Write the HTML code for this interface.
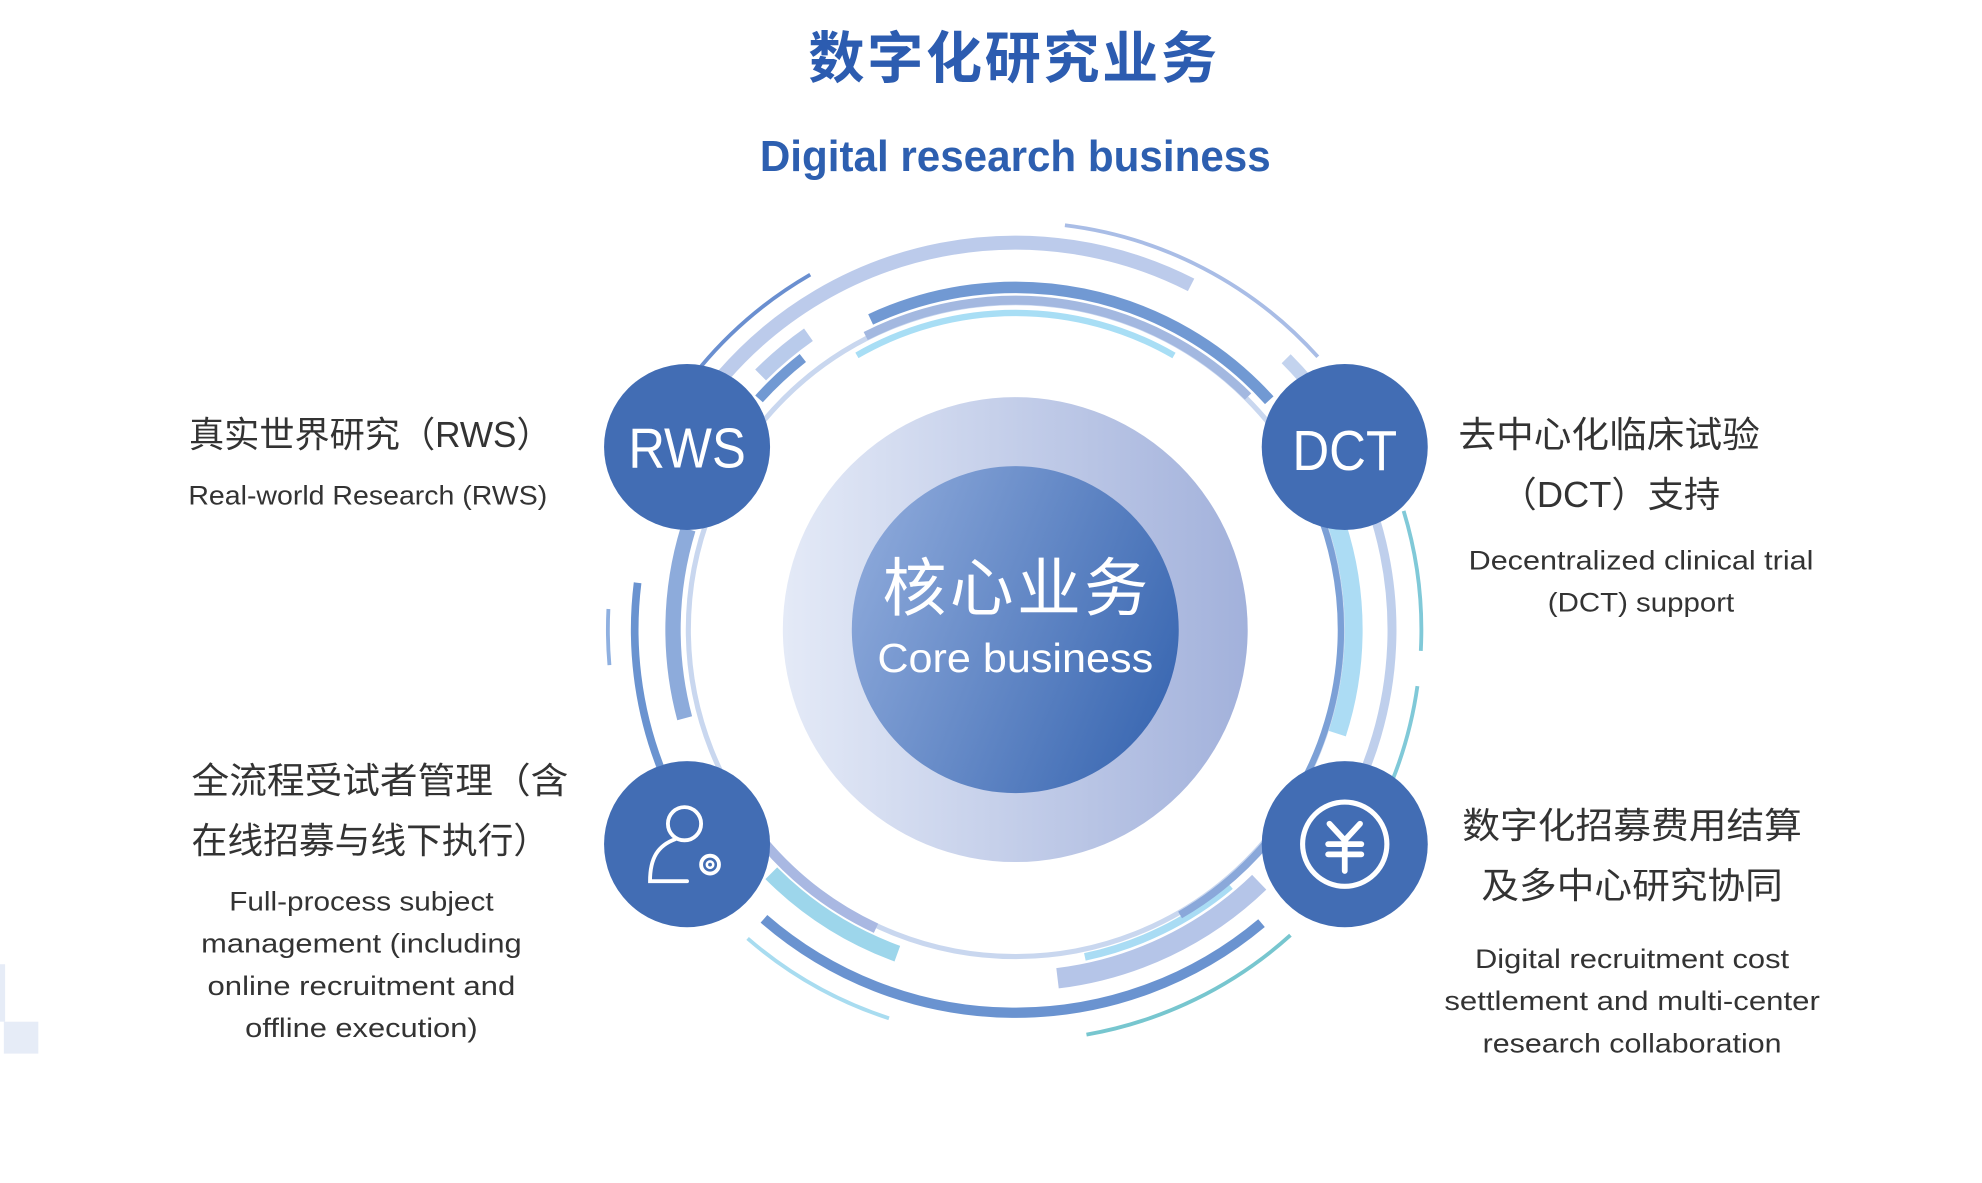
<!DOCTYPE html>
<html><head><meta charset="utf-8"><style>
html,body{margin:0;padding:0;background:#fff;width:1982px;height:1183px;overflow:hidden}
svg{display:block}
.cn{font-family:"Liberation Sans","Noto Sans CJK SC",sans-serif}
.en{font-family:"Liberation Sans","Noto Sans CJK SC",sans-serif}
</style></head><body>
<svg width="1982" height="1183" viewBox="0 0 1552 926.3" preserveAspectRatio="none" xmlns="http://www.w3.org/2000/svg">
<defs>
<linearGradient id="g1" x1="0" y1="0" x2="1" y2="0"><stop offset="0" stop-color="#e4eaf7"/><stop offset="1" stop-color="#a2b1db"/></linearGradient>
<linearGradient id="g2" x1="0" y1="0.2" x2="1" y2="0.6"><stop offset="0" stop-color="#8eaadb"/><stop offset="1" stop-color="#3d6ab3"/></linearGradient>
</defs>
<rect x="0" y="755" width="4" height="45" fill="#e6ecf7"/>
<rect x="3" y="800" width="27" height="25" fill="#e6ecf7"/>
<g fill="none">
<circle cx="795" cy="493" r="256" stroke="#c9d7ef" stroke-width="4"/>
<circle cx="795" cy="493" r="319" stroke="#a9bde6" stroke-width="3" stroke-dasharray="228 9999" transform="rotate(-83 795 493)"/>
<circle cx="795" cy="493" r="321" stroke="#6a8fd0" stroke-width="3" stroke-dasharray="112 9999" transform="rotate(-140 795 493)"/>
<circle cx="795" cy="493" r="303" stroke="#bccbeb" stroke-width="11" stroke-dasharray="402 9999" transform="rotate(-139 795 493)"/>
<circle cx="795" cy="493" r="300" stroke="#c3d3ee" stroke-width="10" stroke-dasharray="26 9999" transform="rotate(-45 795 493)"/>
<circle cx="795" cy="493" r="282" stroke="#b9cbeb" stroke-width="12" stroke-dasharray="49 9999" transform="rotate(-135 795 493)"/>
<circle cx="795" cy="493" r="270" stroke="#7199d3" stroke-width="8" stroke-dasharray="47 9999" transform="rotate(-138 795 493)"/>
<circle cx="795" cy="493" r="268" stroke="#7199d3" stroke-width="9" stroke-dasharray="341 9999" transform="rotate(-115 795 493)"/>
<circle cx="795" cy="493" r="258" stroke="#a3b8e0" stroke-width="7" stroke-dasharray="324 9999" transform="rotate(-117 795 493)"/>
<circle cx="795" cy="493" r="248" stroke="#a8def5" stroke-width="5" stroke-dasharray="260 9999" transform="rotate(-120 795 493)"/>
<circle cx="795" cy="493" r="265" stroke="#acdcf4" stroke-width="14" stroke-dasharray="166 9999" transform="rotate(-18 795 493)"/>
<circle cx="795" cy="493" r="255" stroke="#7ca0d6" stroke-width="5" stroke-dasharray="245 9999" transform="rotate(-25 795 493)"/>
<circle cx="795" cy="493" r="295" stroke="#bfcfec" stroke-width="7" stroke-dasharray="283 9999" transform="rotate(-25 795 493)"/>
<circle cx="795" cy="493" r="318" stroke="#80c9d8" stroke-width="3" stroke-dasharray="111 9999" transform="rotate(-17 795 493)"/>
<circle cx="795" cy="493" r="318" stroke="#80c9d8" stroke-width="3" stroke-dasharray="94 9999" transform="rotate(8 795 493)"/>
<circle cx="795" cy="493" r="268" stroke="#8dabdb" stroke-width="12" stroke-dasharray="150 9999" transform="rotate(165 795 493)"/>
<circle cx="795" cy="493" r="298" stroke="#6a93d0" stroke-width="6" stroke-dasharray="146 9999" transform="rotate(159 795 493)"/>
<circle cx="795" cy="493" r="319" stroke="#8fb0e0" stroke-width="3" stroke-dasharray="44 9999" transform="rotate(175 795 493)"/>
<circle cx="795" cy="493" r="300" stroke="#6a93d0" stroke-width="8" stroke-dasharray="424 9999" transform="rotate(50 795 493)"/>
<circle cx="795" cy="493" r="320" stroke="#a8dcf0" stroke-width="3" stroke-dasharray="128 9999" transform="rotate(108 795 493)"/>
<circle cx="795" cy="493" r="322" stroke="#77c6cf" stroke-width="3" stroke-dasharray="180 9999" transform="rotate(48 795 493)"/>
<circle cx="795" cy="493" r="275" stroke="#b5c5e8" stroke-width="16" stroke-dasharray="178 9999" transform="rotate(46 795 493)"/>
<circle cx="795" cy="493" r="262" stroke="#a9dcf4" stroke-width="6" stroke-dasharray="128 9999" transform="rotate(50 795 493)"/>
<circle cx="795" cy="493" r="258" stroke="#8aa8da" stroke-width="6" stroke-dasharray="99 9999" transform="rotate(38 795 493)"/>
<circle cx="795" cy="493" r="270" stroke="#9dd6eb" stroke-width="13" stroke-dasharray="118 9999" transform="rotate(110 795 493)"/>
<circle cx="795" cy="493" r="258" stroke="#a9b8e2" stroke-width="8" stroke-dasharray="113 9999" transform="rotate(115 795 493)"/>
</g>
<circle cx="795" cy="493" r="182" fill="url(#g1)"/>
<circle cx="795" cy="493" r="128" fill="url(#g2)"/>
<g fill="#426db4">
<circle cx="538" cy="350" r="65"/><circle cx="1053" cy="350" r="65"/>
<circle cx="538" cy="661" r="65"/><circle cx="1053" cy="661" r="65"/>
</g>
<g fill="none" stroke="#fff" stroke-width="3" stroke-linecap="round">
<circle cx="536" cy="645" r="13"/>
<path d="M529 657 C515 662 509 672 509 690 L538 690"/>
<circle cx="556" cy="677" r="7"/><circle cx="556" cy="677" r="2.5" stroke-width="2"/>
<circle cx="1053" cy="661" r="33" stroke-width="4"/>
<path d="M1041 645 L1053 658 L1065 645 M1040 661 L1066 661 M1040 669 L1066 669 M1053 658 L1053 682" stroke-width="4.5"/>
</g>
<g class="cn" text-anchor="middle">
<text x="793" y="61" font-size="44" font-weight="bold" fill="#2c5cb0" textLength="320">数字化研究业务</text>
<text x="795" y="134" font-size="34" font-weight="bold" fill="#2d5fb0" textLength="400" lengthAdjust="spacingAndGlyphs">Digital research business</text>
<text x="538" y="366" font-size="44" fill="#fff" textLength="92" lengthAdjust="spacingAndGlyphs">RWS</text>
<text x="1053" y="368" font-size="44" fill="#fff" textLength="82" lengthAdjust="spacingAndGlyphs">DCT</text>
<text x="795" y="478" font-size="50" fill="#fff" textLength="208">核心业务</text>
<text x="795" y="526" font-size="32" fill="#fff" textLength="216" lengthAdjust="spacingAndGlyphs">Core business</text>
</g>
<g class="cn" fill="#333" font-size="28">
<text x="148" y="350" textLength="284" lengthAdjust="spacingAndGlyphs">真实世界研究（RWS）</text>
<text x="1142" y="350" textLength="236" lengthAdjust="spacingAndGlyphs">去中心化临床试验</text>
<text x="1175" y="397" textLength="172" lengthAdjust="spacingAndGlyphs">（DCT）支持</text>
<text x="150" y="621" textLength="295" lengthAdjust="spacingAndGlyphs">全流程受试者管理（含</text>
<text x="150" y="668" textLength="280" lengthAdjust="spacingAndGlyphs">在线招募与线下执行）</text>
<text x="1278" y="656" text-anchor="middle" textLength="266" lengthAdjust="spacingAndGlyphs">数字化招募费用结算</text>
<text x="1278" y="703" text-anchor="middle" textLength="236" lengthAdjust="spacingAndGlyphs">及多中心研究协同</text>
</g>
<g class="en" fill="#333" font-size="21" text-anchor="middle" lengthAdjust="spacingAndGlyphs">
<text x="288" y="395" textLength="281" lengthAdjust="spacingAndGlyphs">Real-world Research (RWS)</text>
<text x="1285" y="446" textLength="270" lengthAdjust="spacingAndGlyphs">Decentralized clinical trial</text>
<text x="1285" y="479" textLength="146" lengthAdjust="spacingAndGlyphs">(DCT) support</text>
<text x="283" y="713" textLength="207" lengthAdjust="spacingAndGlyphs">Full-process subject</text>
<text x="283" y="746" textLength="251" lengthAdjust="spacingAndGlyphs">management (including</text>
<text x="283" y="779" textLength="241" lengthAdjust="spacingAndGlyphs">online recruitment and</text>
<text x="283" y="812" textLength="182" lengthAdjust="spacingAndGlyphs">offline execution)</text>
<text x="1278" y="758" textLength="246" lengthAdjust="spacingAndGlyphs">Digital recruitment cost</text>
<text x="1278" y="791" textLength="294" lengthAdjust="spacingAndGlyphs">settlement and multi-center</text>
<text x="1278" y="824" textLength="234" lengthAdjust="spacingAndGlyphs">research collaboration</text>
</g>
</svg>
</body></html>
